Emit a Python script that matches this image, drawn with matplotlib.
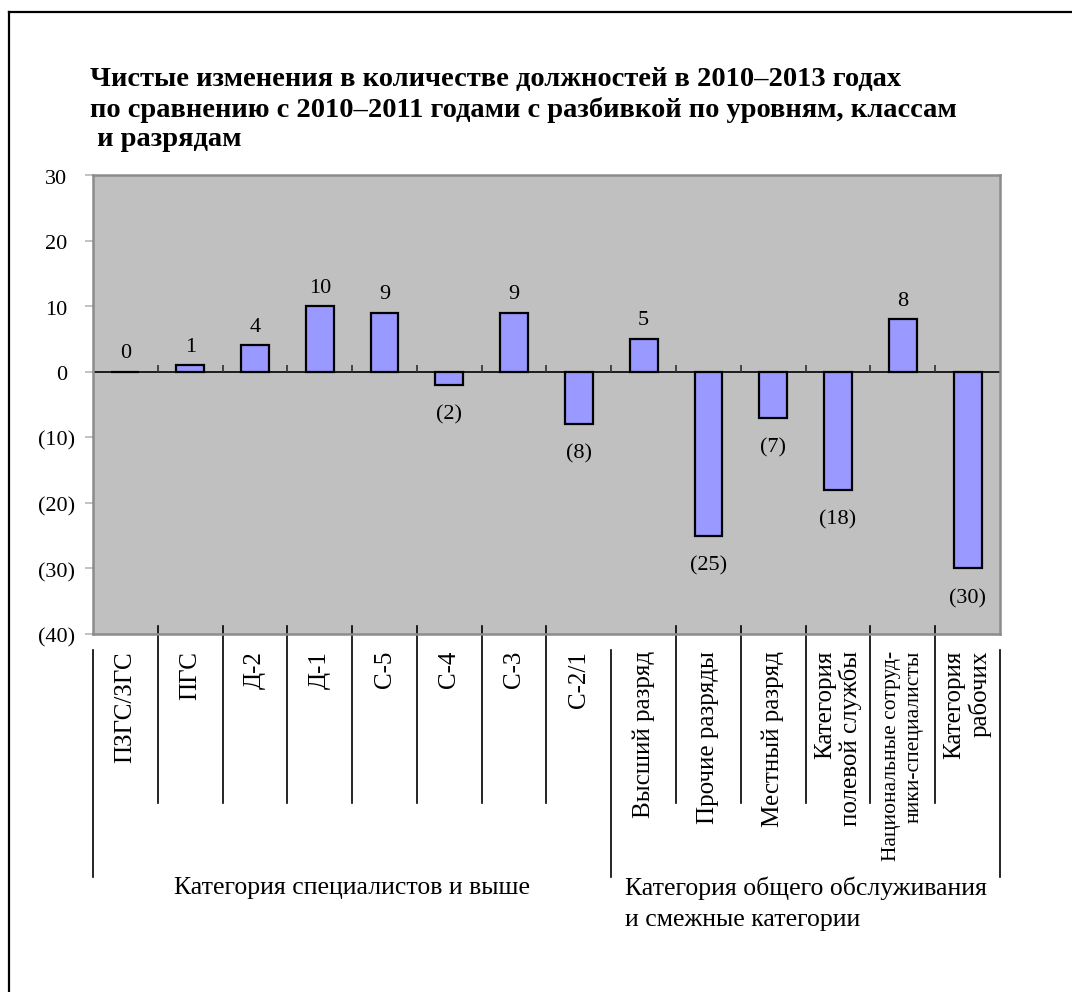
import numpy as np
import matplotlib
matplotlib.use('Agg')
import matplotlib.pyplot as plt
from matplotlib.lines import Line2D

plt.rcParams['font.family'] = ['Liberation Serif', 'DejaVu Serif']

# Data
categories = ['ПЗГС/ЗГС', 'ПГС', 'Д-2', 'Д-1', 'С-5', 'С-4', 'С-3', 'С-2/1',
              'Высший разряд', 'Прочие разряды', 'Местный разряд',
              'Категория\nполевой службы', 'Национальные сотруд-\nники-специалисты',
              'Категория\nрабочих']
values = [0, 1, 4, 10, 9, -2, 9, -8, 5, -25, -7, -18, 8, -30]
groups = ['Категория специалистов и выше',
          'Категория общего обслуживания\nи смежные категории']
group_sizes = [8, 6]
y_ticks = [-40, -30, -20, -10, 0, 10, 20, 30]

title = ('Чистые изменения в количестве должностей в 2010–2013 годах\n'
         'по сравнению с 2010–2011 годами с разбивкой по уровням, классам\n'
         ' и разрядам')


def fmt_num(v):
    v = int(round(v))
    return f'({abs(v)})' if v < 0 else f'{v}'


W, H = 1072, 992
PT = 72 / 100  # pixels -> points
fig = plt.figure(figsize=(W / 100, H / 100), dpi=100)

# plot area in pixels
left, right, top, bottom = 93, 1000, 175, 634
ax = fig.add_axes([left / W, 1 - bottom / H, (right - left) / W, (bottom - top) / H])
ax.set_facecolor('#C0C0C0')

x = np.arange(len(categories))
ax.bar(x, values, width=0.43, color='#9999FF', edgecolor='black', linewidth=1.6, zorder=3)
ax.axhline(0, color='black', lw=1.2, zorder=2)

# small ticks on the zero line at category boundaries
bounds = np.arange(len(categories) + 1) - 0.5
ax.vlines(bounds[1:-1], 0, 1.1, color='#303030', lw=1.2, zorder=2)

ax.set_xlim(-0.5, len(categories) - 0.5)
ax.set_ylim(-40, 30)
ax.set_yticks(y_ticks)
ax.set_yticklabels([])
ax.tick_params(axis='y', length=6, color='#B8B8B8', width=1.2)
ax.set_xticks([])
for s in ax.spines.values():
    s.set_color('#8C8C8C')
    s.set_linewidth(1.8)

# y labels, Excel style: digits aligned, ")" hanging to the right
for v in y_ticks:
    dx = -18 if v < 0 else -26
    ax.annotate(fmt_num(v), (0, v), xycoords=('axes fraction', 'data'),
                xytext=(dx * PT, -4 * PT), textcoords='offset points',
                ha='right', va='center', fontsize=16, annotation_clip=False)

# value labels
for xi, v in zip(x, values):
    off = 18 if v >= 0 else -30
    ax.annotate(fmt_num(v), (xi, v), xytext=(0, off * PT), textcoords='offset points',
                ha='center', va='center', fontsize=16)

# category axis: separators and labels
trans = ax.get_xaxis_transform()
ph = bottom - top


def ay(py):
    return (bottom - py) / ph


group_edges = np.concatenate([[0], np.cumsum(group_sizes)]) - 0.5
for b in bounds:
    if b in group_edges:
        y0, y1 = ay(650), ay(877)
    else:
        y0, y1 = ay(626), ay(803)
    ax.add_line(Line2D([b, b], [y0, y1], color='black', lw=1.2,
                       transform=trans, clip_on=False))

for xi, lab in zip(x, categories):
    fs = 15.5 if lab.startswith('Национальные') else 18
    ls = 1.25 if lab.startswith('Национальные') else 1.16
    ax.text(xi, ay(651), lab, rotation=90, ha='center', va='top', multialignment='right',
            fontsize=fs, linespacing=ls, transform=trans, clip_on=False)

for i, g in enumerate(groups):
    gx = (group_edges[i] + group_edges[i + 1]) / 2
    ax.text(gx, ay(877), g, ha='center', va='top', multialignment='left',
            fontsize=18.5, linespacing=1.48, transform=trans, clip_on=False)

fig.text(90 / W, 1 - 67 / H, title, ha='left', va='top', fontsize=20.5,
         fontweight='bold', linespacing=1.24)

# outer frame
fig.add_artist(Line2D([9 / W, 1], [1 - 12 / H, 1 - 12 / H], color='black', lw=1.6,
                      transform=fig.transFigure))
fig.add_artist(Line2D([9 / W, 9 / W], [0, 1 - 12 / H], color='black', lw=1.6,
                      transform=fig.transFigure))

fig.savefig('out.png', dpi=100)
